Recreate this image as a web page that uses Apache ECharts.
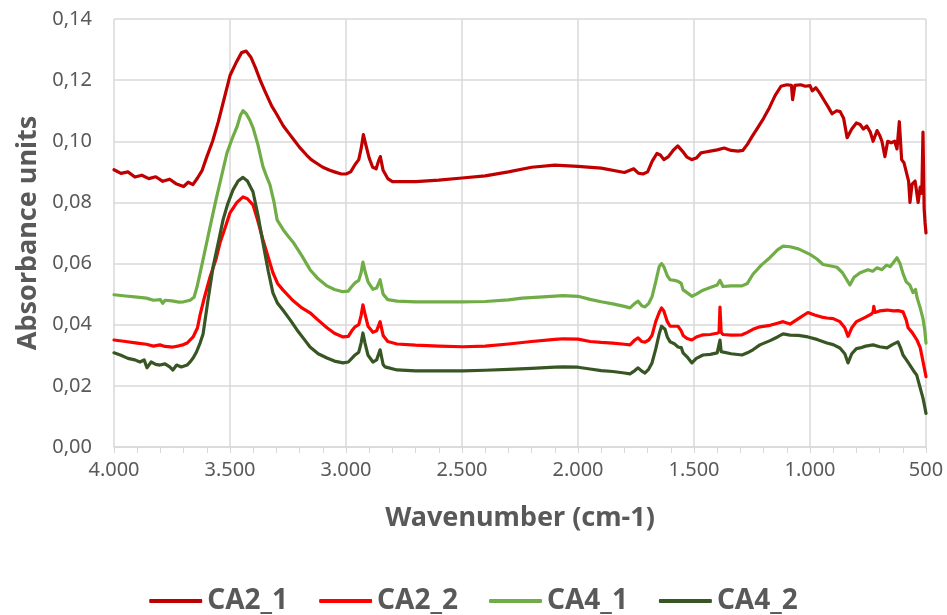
<!DOCTYPE html>
<html>
<head>
<meta charset="utf-8">
<script src="https://cdn.jsdelivr.net/npm/echarts@6/dist/echarts.min.js"></script>
<style>
    html, body { margin: 0; padding: 0; background: #fff; }
    #container { width: 947px; height: 615px; }
</style>
</head>
<body>
<div id="container"></div>
<script>
    // series names
    let seriesNames = ['CA2_1', 'CA2_2', 'CA4_1', 'CA4_2'];

    // CA2_1
    let ca21Wn = [4000, 3970, 3940, 3910, 3880, 3850, 3820, 3790, 3760, 3730, 3700, 3680, 3660, 3640, 3620, 3600, 3575, 3550, 3525, 3500,
        3475, 3450, 3430, 3410, 3390, 3370, 3350, 3320, 3300, 3270, 3250, 3220, 3200, 3170, 3150, 3120, 3100, 3070, 3050, 3020,
        3000, 2980, 2960, 2945, 2935, 2925, 2915, 2900, 2885, 2870, 2860, 2852, 2840, 2820, 2800, 2700, 2600, 2500, 2400, 2300,
        2200, 2100, 2000, 1900, 1800, 1760, 1740, 1720, 1700, 1680, 1660, 1645, 1630, 1610, 1590, 1570, 1550, 1530, 1510, 1490,
        1470, 1450, 1430, 1400, 1370, 1340, 1310, 1290, 1270, 1250, 1225, 1200, 1175, 1150, 1125, 1100, 1080, 1075, 1065, 1040,
        1020, 1000, 990, 975, 960, 940, 920, 905, 885, 870, 855, 840, 820, 800, 784, 770, 755, 740, 728, 711,
        700, 690, 677, 665, 650, 635, 625, 615, 605, 595, 585, 575, 569, 560, 547, 534, 525, 518, 513, 508, 504, 500];
    let ca21Abs = [0.0907, 0.0895, 0.0900, 0.0883, 0.0889, 0.0878, 0.0884, 0.0869, 0.0876, 0.0860, 0.0852, 0.0866, 0.0858, 0.0880, 0.0905, 0.0949, 0.1000, 0.1065, 0.1140, 0.1215,
        0.1255, 0.1290, 0.1295, 0.1275, 0.1240, 0.1200, 0.1165, 0.1115, 0.1090, 0.1050, 0.1030, 0.1000, 0.0980, 0.0955, 0.0940, 0.0925, 0.0915, 0.0905, 0.0900, 0.0893,
        0.0893, 0.0900, 0.0925, 0.0940, 0.0975, 0.1022, 0.0990, 0.0945, 0.0915, 0.0910, 0.0935, 0.0950, 0.0905, 0.0878, 0.0868, 0.0868, 0.0873, 0.0880, 0.0887, 0.0900,
        0.0915, 0.0922, 0.0918, 0.0912, 0.0898, 0.0910, 0.0896, 0.0893, 0.0900, 0.0935, 0.0960, 0.0955, 0.0940, 0.0950, 0.0970, 0.0985, 0.0968, 0.0948, 0.0940, 0.0945,
        0.0962, 0.0965, 0.0968, 0.0972, 0.0978, 0.0970, 0.0968, 0.0970, 0.0990, 0.1015, 0.1045, 0.1075, 0.1110, 0.1150, 0.1180, 0.1185, 0.1183, 0.1136, 0.1183, 0.1185,
        0.1180, 0.1182, 0.1165, 0.1175, 0.1160, 0.1135, 0.1110, 0.1090, 0.1100, 0.1097, 0.1075, 0.1012, 0.1040, 0.1060, 0.1055, 0.1040, 0.1050, 0.1030, 0.1000, 0.1035,
        0.1020, 0.1000, 0.0950, 0.1000, 0.0995, 0.1000, 0.0975, 0.1064, 0.0940, 0.0930, 0.0900, 0.0870, 0.0800, 0.0860, 0.0870, 0.0800, 0.0850, 0.0830, 0.1030, 0.0780, 0.0733, 0.0700];

    // CA2_2
    let ca22Wn = [4000, 3950, 3900, 3860, 3830, 3802, 3780, 3746, 3720, 3700, 3685, 3659, 3640, 3629, 3610, 3586, 3560, 3543, 3520, 3500,
        3470, 3444, 3425, 3401, 3380, 3358, 3335, 3315, 3295, 3272, 3230, 3190, 3155, 3120, 3082, 3050, 3013, 2990, 2975, 2961,
        2945, 2935, 2927, 2918, 2905, 2884, 2868, 2853, 2840, 2820, 2780, 2700, 2600, 2496, 2400, 2300, 2200, 2100, 2065, 2000,
        1948, 1900, 1850, 1800, 1776, 1755, 1741, 1725, 1711, 1695, 1681, 1665, 1650, 1640, 1630, 1615, 1603, 1585, 1569, 1555,
        1547, 1530, 1509, 1490, 1461, 1430, 1401, 1392, 1388, 1383, 1375, 1340, 1293, 1270, 1246, 1216, 1172, 1140, 1116, 1086,
        1050, 1009, 980, 950, 927, 900, 871, 850, 836, 820, 800, 784, 760, 735, 728, 725, 720, 700, 668, 640,
        620, 599, 585, 577, 560, 539, 525, 513, 505, 500];
    let ca22Abs = [0.0350, 0.0345, 0.0340, 0.0336, 0.0330, 0.0334, 0.0329, 0.0327, 0.0331, 0.0335, 0.0340, 0.0360, 0.0390, 0.0432, 0.0490, 0.0556, 0.0615, 0.0668, 0.0720, 0.0766,
        0.0800, 0.0818, 0.0812, 0.0792, 0.0740, 0.0678, 0.0620, 0.0570, 0.0535, 0.0514, 0.0480, 0.0455, 0.0439, 0.0415, 0.0390, 0.0372, 0.0360, 0.0362, 0.0380, 0.0393,
        0.0400, 0.0430, 0.0465, 0.0435, 0.0395, 0.0375, 0.0380, 0.0410, 0.0365, 0.0345, 0.0337, 0.0333, 0.0330, 0.0328, 0.0330, 0.0337, 0.0345, 0.0352, 0.0354, 0.0353,
        0.0345, 0.0342, 0.0340, 0.0336, 0.0334, 0.0350, 0.0357, 0.0345, 0.0343, 0.0350, 0.0365, 0.0410, 0.0440, 0.0455, 0.0445, 0.0410, 0.0395, 0.0395, 0.0395, 0.0380,
        0.0365, 0.0355, 0.0350, 0.0360, 0.0367, 0.0368, 0.0372, 0.0375, 0.0458, 0.0375, 0.0368, 0.0366, 0.0367, 0.0375, 0.0385, 0.0393, 0.0398, 0.0405, 0.0410, 0.0402,
        0.0420, 0.0440, 0.0432, 0.0425, 0.0422, 0.0420, 0.0410, 0.0390, 0.0362, 0.0390, 0.0410, 0.0416, 0.0425, 0.0435, 0.0442, 0.0460, 0.0440, 0.0445, 0.0448, 0.0445,
        0.0446, 0.0442, 0.0415, 0.0390, 0.0375, 0.0350, 0.0325, 0.0280, 0.0250, 0.0230];

    // CA4_1
    let ca41Wn = [4000, 3950, 3900, 3860, 3830, 3800, 3790, 3780, 3750, 3720, 3700, 3672, 3655, 3642, 3620, 3600, 3586, 3560, 3530, 3513,
        3490, 3470, 3455, 3444, 3430, 3415, 3401, 3380, 3358, 3340, 3328, 3310, 3297, 3270, 3250, 3228, 3190, 3155, 3120, 3082,
        3050, 3013, 2990, 2975, 2961, 2945, 2935, 2927, 2918, 2905, 2884, 2868, 2853, 2840, 2820, 2780, 2700, 2600, 2500, 2400,
        2300, 2241, 2150, 2065, 2000, 1948, 1900, 1850, 1800, 1776, 1755, 1741, 1725, 1711, 1695, 1681, 1665, 1650, 1640, 1630,
        1615, 1603, 1585, 1569, 1555, 1547, 1530, 1509, 1490, 1461, 1430, 1400, 1388, 1375, 1340, 1293, 1270, 1246, 1210, 1172,
        1140, 1116, 1086, 1050, 1000, 970, 944, 910, 884, 860, 840, 828, 810, 784, 750, 730, 711, 690, 670, 655,
        642, 625, 612, 599, 585, 570, 556, 545, 539, 525, 513, 505, 500];
    let ca41Abs = [0.0498, 0.0494, 0.0490, 0.0487, 0.0480, 0.0482, 0.0470, 0.0480, 0.0478, 0.0474, 0.0475, 0.0480, 0.0490, 0.0524, 0.0600, 0.0670, 0.0720, 0.0810, 0.0907, 0.0962,
        0.1010, 0.1047, 0.1085, 0.1100, 0.1090, 0.1070, 0.1045, 0.0990, 0.0917, 0.0880, 0.0858, 0.0800, 0.0743, 0.0710, 0.0690, 0.0670, 0.0625, 0.0580, 0.0550, 0.0527,
        0.0515, 0.0508, 0.0510, 0.0525, 0.0537, 0.0545, 0.0570, 0.0605, 0.0575, 0.0540, 0.0516, 0.0520, 0.0547, 0.0500, 0.0482, 0.0477, 0.0475, 0.0475, 0.0475, 0.0476,
        0.0481, 0.0487, 0.0491, 0.0495, 0.0493, 0.0483, 0.0475, 0.0468, 0.0460, 0.0455, 0.0470, 0.0477, 0.0462, 0.0458, 0.0470, 0.0491, 0.0540, 0.0590, 0.0600, 0.0590,
        0.0560, 0.0547, 0.0545, 0.0542, 0.0535, 0.0514, 0.0505, 0.0493, 0.0500, 0.0513, 0.0522, 0.0530, 0.0545, 0.0525, 0.0527, 0.0527, 0.0535, 0.0565, 0.0595, 0.0620,
        0.0645, 0.0657, 0.0655, 0.0648, 0.0630, 0.0615, 0.0597, 0.0592, 0.0588, 0.0570, 0.0545, 0.0530, 0.0555, 0.0570, 0.0580, 0.0575, 0.0586, 0.0580, 0.0595, 0.0590,
        0.0602, 0.0619, 0.0600, 0.0567, 0.0540, 0.0530, 0.0505, 0.0515, 0.0490, 0.0455, 0.0420, 0.0380, 0.0340];

    // CA4_2
    let ca42Wn = [4000, 3970, 3940, 3910, 3888, 3870, 3858, 3840, 3820, 3802, 3780, 3760, 3746, 3730, 3710, 3685, 3670, 3659, 3645, 3629,
        3616, 3595, 3573, 3550, 3530, 3510, 3487, 3465, 3444, 3425, 3401, 3380, 3358, 3335, 3315, 3295, 3272, 3240, 3211, 3180,
        3155, 3120, 3082, 3050, 3013, 2990, 2975, 2961, 2945, 2935, 2927, 2918, 2905, 2884, 2868, 2853, 2840, 2832, 2780, 2700,
        2600, 2496, 2400, 2300, 2200, 2100, 2065, 2000, 1948, 1900, 1850, 1800, 1776, 1755, 1741, 1725, 1711, 1695, 1681, 1665,
        1650, 1640, 1634, 1625, 1615, 1603, 1585, 1569, 1555, 1547, 1530, 1509, 1490, 1461, 1430, 1400, 1392, 1388, 1383, 1375,
        1340, 1293, 1270, 1246, 1216, 1172, 1140, 1116, 1086, 1050, 1009, 970, 927, 900, 871, 850, 836, 820, 800, 784,
        760, 728, 700, 668, 645, 621, 610, 599, 580, 556, 540, 526, 513, 505, 500];
    let ca42Abs = [0.0308, 0.0300, 0.0290, 0.0285, 0.0278, 0.0285, 0.0259, 0.0278, 0.0270, 0.0268, 0.0272, 0.0262, 0.0252, 0.0268, 0.0262, 0.0268, 0.0280, 0.0291, 0.0310, 0.0340,
        0.0370, 0.0480, 0.0589, 0.0670, 0.0743, 0.0795, 0.0841, 0.0870, 0.0882, 0.0870, 0.0835, 0.0760, 0.0668, 0.0575, 0.0504, 0.0470, 0.0448, 0.0415, 0.0383, 0.0352,
        0.0327, 0.0305, 0.0291, 0.0281, 0.0275, 0.0278, 0.0290, 0.0301, 0.0310, 0.0340, 0.0373, 0.0340, 0.0300, 0.0278, 0.0285, 0.0318, 0.0270, 0.0262, 0.0252, 0.0249,
        0.0249, 0.0249, 0.0251, 0.0254, 0.0257, 0.0261, 0.0262, 0.0261, 0.0255, 0.0250, 0.0247, 0.0242, 0.0239, 0.0250, 0.0259, 0.0248, 0.0242, 0.0255, 0.0275, 0.0320,
        0.0370, 0.0395, 0.0400, 0.0385, 0.0360, 0.0344, 0.0338, 0.0327, 0.0325, 0.0308, 0.0295, 0.0275, 0.0290, 0.0301, 0.0303, 0.0308, 0.0310, 0.0350, 0.0312, 0.0308,
        0.0305, 0.0301, 0.0308, 0.0318, 0.0334, 0.0348, 0.0360, 0.0370, 0.0366, 0.0365, 0.0360, 0.0352, 0.0340, 0.0335, 0.0324, 0.0305, 0.0275, 0.0305, 0.0322, 0.0324,
        0.0330, 0.0334, 0.0328, 0.0324, 0.0335, 0.0344, 0.0325, 0.0301, 0.0280, 0.0252, 0.0235, 0.0196, 0.0160, 0.0130, 0.0110];

    let seriesColors = ['#C00000', '#FF0000', '#70AD47', '#375623'];

    // 拼成 [x, y] 点
    function toPoints(wn, abs) {
        let pts = [];
        for (let i = 0; i < wn.length; i++) {
            pts.push([wn[i], abs[i]]);
        }
        return pts;
    }

    let allData = [
        toPoints(ca21Wn, ca21Abs),
        toPoints(ca22Wn, ca22Abs),
        toPoints(ca41Wn, ca41Abs),
        toPoints(ca42Wn, ca42Abs)
    ];

    let fontName = "'Noto Sans', 'Open Sans', sans-serif";
    let textColor = '#595959';

    let myChart = echarts.init(document.getElementById('container'), null, {renderer: 'canvas'});
    let series = [];
    seriesNames.forEach(function (name, i) {
        series.push({
            name: name,
            type: 'line',
            data: allData[i],
            symbol: 'none',
            lineStyle: {color: seriesColors[i], width: 3.2, join: 'round', cap: 'round'},
            itemStyle: {color: seriesColors[i]},
            z: 2
        });
    });

    let option = {
        animation: false,
        backgroundColor: '#fff',
        grid: {left: 114, right: 21, top: 19, bottom: 168},
        legend: {
            top: 582,
            left: 'center',
            icon: 'roundRect',
            itemWidth: 53,
            itemHeight: 4,
            itemGap: 31,
            data: seriesNames,
            textStyle: {fontFamily: fontName, fontSize: 28, fontWeight: 'bold', color: textColor}
        },
        xAxis: {
            type: 'value',
            inverse: true,
            min: 500,
            max: 4000,
            interval: 500,
            name: 'Wavenumber (cm-1)',
            nameLocation: 'middle',
            nameGap: 58,
            nameTextStyle: {fontFamily: fontName, fontSize: 27, fontWeight: 'bold', color: textColor},
            axisLine: {lineStyle: {color: '#D9D9D9', width: 1.5}},
            axisTick: {show: true, length: 6, lineStyle: {color: '#D9D9D9'}},
            minorTick: {show: true, splitNumber: 5, length: 6, lineStyle: {color: '#D9D9D9'}},
            axisLabel: {
                margin: 13,
                fontFamily: fontName,
                fontSize: 20,
                color: textColor,
                formatter: function (v) {
                    return v.toLocaleString('de-DE');
                }
            },
            splitLine: {show: true, lineStyle: {color: '#D9D9D9', width: 1.5}}
        },
        yAxis: {
            type: 'value',
            min: 0,
            max: 0.14,
            interval: 0.02,
            name: 'Absorbance units',
            nameLocation: 'middle',
            nameGap: 72,
            nameTextStyle: {fontFamily: fontName, fontSize: 27, fontWeight: 'bold', color: textColor},
            axisLine: {show: false},
            axisTick: {show: false},
            axisLabel: {
                margin: 22,
                fontFamily: fontName,
                fontSize: 20,
                color: textColor,
                formatter: function (v) {
                    return v.toFixed(2).replace('.', ',');
                }
            },
            splitLine: {show: true, lineStyle: {color: '#D9D9D9', width: 1.5}}
        },
        series: series
    };
    myChart.setOption(option, true);
</script>
</body>
</html>
